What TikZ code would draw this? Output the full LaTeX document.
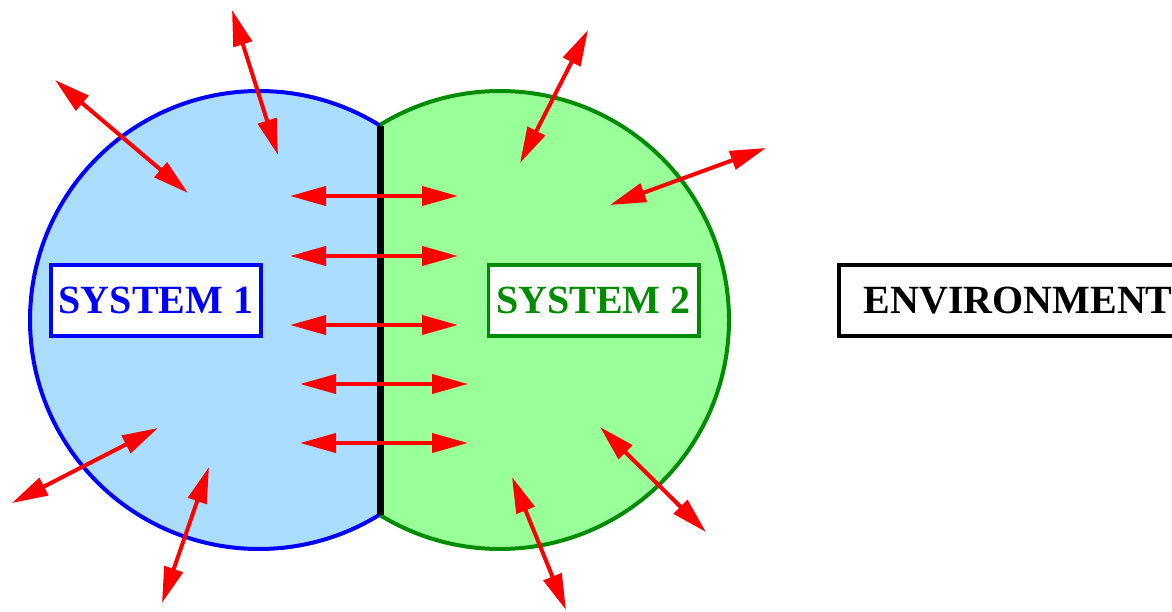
\documentclass[tikz,border=0pt]{standalone}
\usepackage{fontspec}
\setmainfont{Liberation Serif}
\usepackage{xcolor}
\usetikzlibrary{arrows.meta,positioning}

\definecolor{sysblue}{RGB}{170,221,255}
\definecolor{sysgreen}{RGB}{153,255,153}
\definecolor{darkgreen}{RGB}{0,140,0}

\tikzset{
  flux/.style={red, line width=4pt, {Triangle[length=36pt,width=19pt]}-{Triangle[length=36pt,width=19pt]}},
  label box/.style={draw, line width=3.5pt, fill=white, font=\fontsize{40}{48}\selectfont\bfseries,
    minimum height=71pt, inner xsep=8pt}
}

\begin{document}
\begin{tikzpicture}[x=1pt,y=-1pt]
    \clip (0,0) rectangle (1172,612);

    % the two systems, each cut at the common wall
    \begin{scope}
        \clip (0,0) rectangle (380,612);
        \filldraw[fill=sysblue, draw=blue, line width=4pt] (259,320) circle[radius=229pt];
    \end{scope}
    \begin{scope}
        \clip (380,0) rectangle (1172,612);
        \filldraw[fill=sysgreen, draw=darkgreen, line width=4pt] (500,320) circle[radius=229pt];
    \end{scope}
    \draw[line width=7pt] (380,126) -- (380,515);

    % exchange across the wall and with the outside
    \foreach \xa/\ya/\xb/\yb in {232/10/278/155, 55/80/188/193,
        290/196/458/196, 290/256/458/256, 290/325/458/325, 300/384/468/384, 300/443/468/443,
        158/428/12/503, 209/467/162/603,
        588/30/520/163, 766/148/610/205, 600/427/706/532, 512/477/566/610} {
        \draw[flux] (\xa,\ya) -- (\xb,\yb);
    }

    \node[label box, draw=blue, text=blue, minimum width=210pt] (sys1) at (156,300.5) {SYSTEM 1};
    \node[label box, draw=darkgreen, text=darkgreen, minimum width=209pt] (sys2) at (593.5,300.5) {SYSTEM 2};
    \node[label box, draw=black, text=black, anchor=west, inner xsep=25pt] (env) at (837,300.5) {ENVIRONMENT};
\end{tikzpicture}
\end{document}
